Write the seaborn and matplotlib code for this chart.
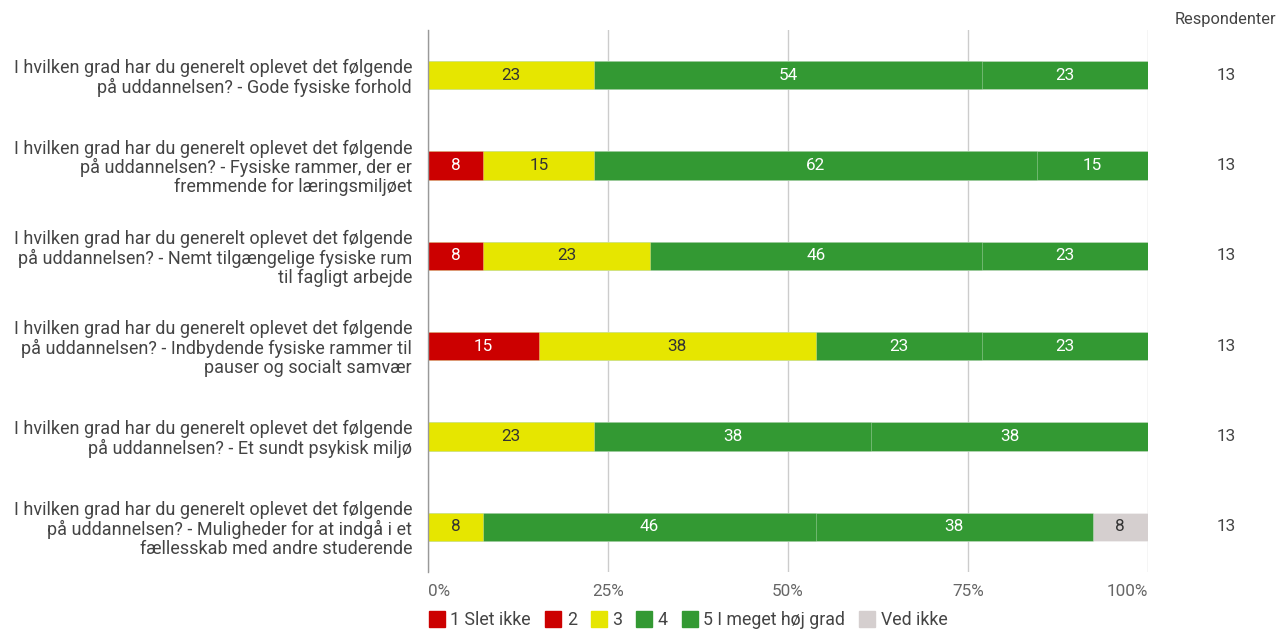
import numpy as np
import pandas as pd
import matplotlib
matplotlib.use("Agg")
import matplotlib.pyplot as plt
from matplotlib.lines import Line2D
import matplotlib.transforms as mtransforms
import seaborn as sns

# Survey items (question wording split over lines as shown on the axis)
prefix = "I hvilken grad har du generelt oplevet det følgende\npå uddannelsen? - "
items = [
    prefix + "Gode fysiske forhold",
    prefix + "Fysiske rammer, der er\nfremmende for læringsmiljøet",
    prefix + "Nemt tilgængelige fysiske rum\ntil fagligt arbejde",
    prefix + "Indbydende fysiske rammer til\npauser og socialt samvær",
    prefix + "Et sundt psykisk miljø",
    prefix + "Muligheder for at indgå i et\nfællesskab med andre studerende",
]

categories = ["1 Slet ikke", "2", "3", "4", "5 I meget høj grad", "Ved ikke"]
colors = ["#cc0000", "#cc0000", "#e6e600", "#339933", "#339933", "#d5cfcf"]
label_colors = ["white", "white", "#333333", "white", "white", "#333333"]
tick_labels = ["0%", "25%", "50%", "75%", "100%"]

# Answer counts per item and category
slet_ikke = [0, 0, 0, 0, 0, 0]
to = [0, 1, 1, 2, 0, 0]
tre = [3, 2, 3, 5, 3, 1]
fire = [7, 8, 6, 3, 5, 6]
fem = [3, 2, 3, 3, 5, 5]
ved_ikke = [0, 0, 0, 0, 0, 1]
respondents = [13, 13, 13, 13, 13, 13]

counts = np.array([slet_ikke, to, tre, fire, fem, ved_ikke], dtype=float).T
pct = counts / np.array(respondents)[:, None] * 100
cum = np.cumsum(pct, axis=1)

plt.rcParams["font.family"] = ["Roboto", "DejaVu Sans"]
fig = plt.figure(figsize=(12.83, 6.32), dpi=100)
ax = fig.add_axes([428 / 1283, 1 - 572 / 632, 720 / 1283, 542 / 632])

# Stacked bars: draw cumulative totals from the last category backwards
for k in range(len(categories) - 1, -1, -1):
    df = pd.DataFrame({"item": items, "value": cum[:, k]})
    sns.barplot(data=df, x="value", y="item", orient="h", color=colors[k],
                width=0.31, ax=ax, saturation=1, edgecolor=(1, 1, 1, 0.35),
                linewidth=0.6, zorder=3)

# Segment labels
for i in range(len(items)):
    for k in range(len(categories)):
        v = pct[i, k]
        if v <= 0:
            continue
        ax.text(cum[i, k] - v / 2, i, f"{v:.0f}", ha="center", va="center",
                color=label_colors[k], fontsize=12.3, zorder=5)

ax.set_xlim(0, 100)
ax.set_ylim(len(items) - 0.5, -0.5)
ax.set_xticks([0, 25, 50, 75, 100])
ax.set_xticklabels(tick_labels, color="#666666", fontsize=12.3)
xt = ax.get_xticklabels()
xt[0].set_ha("left")
xt[0].set_transform(xt[0].get_transform() +
                    mtransforms.ScaledTranslation(-4 / 100, 0, fig.dpi_scale_trans))
xt[-1].set_ha("right")
xt[-1].set_transform(xt[-1].get_transform() +
                     mtransforms.ScaledTranslation(4 / 100, 0, fig.dpi_scale_trans))
ax.tick_params(axis="x", length=0, pad=9)
ax.tick_params(axis="y", length=0, pad=11.5, labelsize=13, labelcolor="#444444")
for t in ax.get_yticklabels():
    t.set_linespacing(1.06)
ax.set_xlabel("")
ax.set_ylabel("")
ax.grid(axis="x", color="#cccccc", linewidth=1, zorder=0)
ax.set_axisbelow(True)
for s in ["top", "right", "bottom"]:
    ax.spines[s].set_visible(False)
ax.spines["left"].set_color("#999999")
ax.spines["left"].set_linewidth(1)
ax.spines["left"].set_zorder(6)

# Respondent counts column
ax.text(110.8, -0.5 - 10 / 90.3, "Respondenter", ha="center", va="center",
        color="#444444", fontsize=11.8, clip_on=False)
for i, n in enumerate(respondents):
    ax.text(110.8, i, str(n), ha="center", va="center", color="#444444",
            fontsize=12.3, clip_on=False)

# Legend
handles = [Line2D([0], [0], marker="s", linestyle="", markersize=12,
                  markerfacecolor=c, markeredgecolor=c) for c in colors]
fig.legend(handles, categories, loc="center left",
           bbox_to_anchor=(430 / 1283, 1 - 620 / 632), ncol=6, frameon=False,
           fontsize=12.8, handlelength=0.8, handletextpad=0.35, columnspacing=0.85,
           labelcolor="#444444", borderaxespad=0, borderpad=0)

fig.savefig("out.png", dpi=100)
